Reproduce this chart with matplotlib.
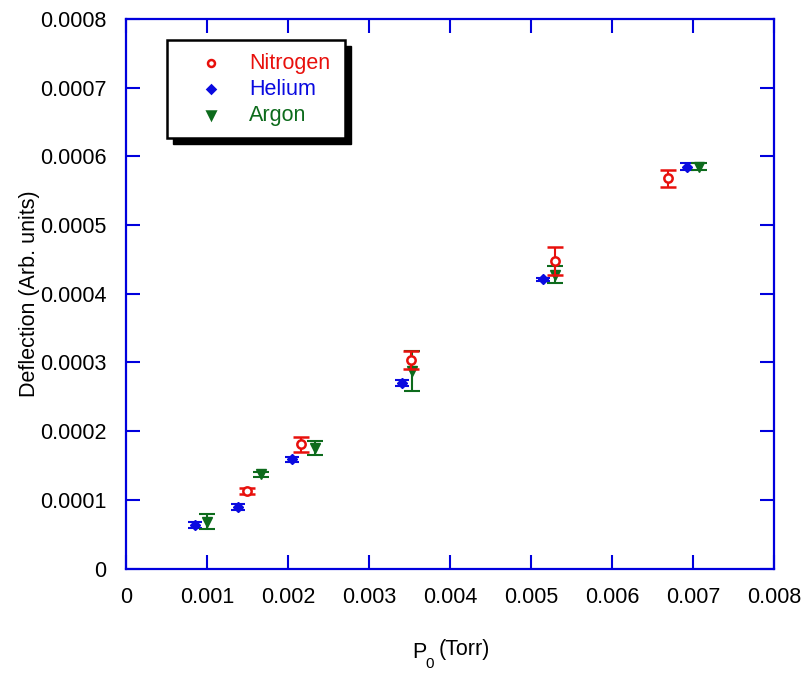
import numpy as np
import matplotlib.pyplot as plt
from matplotlib.patches import Rectangle

plt.rcParams['font.family'] = ['Liberation Sans', 'DejaVu Sans']

# Nitrogen
n2_x = [0.00149, 0.00216, 0.00352, 0.00530, 0.00669]
n2_y = [0.000113, 0.000181, 0.000304, 0.000448, 0.000568]
n2_err = [0.000004, 0.000011, 0.000013, 0.000020, 0.000012]
# Helium
he_x = [0.00085, 0.00138, 0.00205, 0.00341, 0.00515, 0.00693]
he_y = [0.0000633, 0.0000895, 0.000159, 0.000270, 0.000421, 0.000585]
he_err = [0.000004, 0.000004, 0.000004, 0.000005, 0.000002, 0.000005]
# Argon
ar_x = [0.00100, 0.00167, 0.00233, 0.00353, 0.00530, 0.00707]
ar_y = [0.0000680, 0.000137, 0.000175, 0.000287, 0.000428, 0.000585]
ar_err = [0.000011, 0.000004, 0.000010, 0.000029, 0.000012, 0.000005]

xticks = np.arange(0, 0.0081, 0.001)
yticks = np.arange(0, 0.00081, 0.0001)
xlabels = ['0'] + ['%.3f' % v for v in xticks[1:]]
ylabels = ['0'] + ['%.4f' % v for v in yticks[1:]]

red = '#e8100c'
blue = '#0a0ae0'
green = '#0d6b1c'
axcol = '#0000dd'
fs = 15.5

fig = plt.figure(figsize=(8.04, 6.74), dpi=100)
ax = fig.add_axes([0.1567, 0.1565, 0.8060, 0.8153])

ax.errorbar(he_x, he_y, yerr=he_err, fmt='D', ms=5, color=blue, ecolor=blue,
            capsize=5, elinewidth=1.5, capthick=1.5, zorder=3)
ax.errorbar(ar_x, ar_y, yerr=ar_err, fmt='v', ms=6.5, color=green, ecolor=green,
            capsize=6, elinewidth=1.5, capthick=1.5, zorder=3)
ax.errorbar(n2_x, n2_y, yerr=n2_err, fmt='o', ms=6, mfc='white', mec=red, mew=1.8,
            color=red, ecolor=red, capsize=6, elinewidth=1.5, capthick=1.5, zorder=4)

ax.set_xlim(0, 0.008)
ax.set_ylim(0, 0.0008)
ax.set_xticks(xticks)
ax.set_xticklabels(xlabels)
ax.set_yticks(yticks)
ax.set_yticklabels(ylabels)
ax.tick_params(direction='in', length=10, width=1.5, color=axcol, labelsize=fs,
               top=True, right=True, pad=13)
ax.tick_params(axis='y', pad=14)
for s in ax.spines.values():
    s.set_color(axcol)
    s.set_linewidth(1.6)

ax.set_ylabel('Deflection (Arb. units)', fontsize=fs, labelpad=0)
# x label with low-set subscript
fig.text(419 / 804, 1 - 652 / 674, 'P', fontsize=fs, ha='center', va='center')
fig.text(430 / 804, 1 - 664 / 674, '0', fontsize=11, ha='center', va='center')
fig.text(464 / 804, 1 - 650 / 674, '(Torr)', fontsize=fs, ha='center', va='center')

# legend box with shadow
tr = ax.transAxes
def px2ax(x, y):
    return ((x - 126) / 648.0, (568.5 - y) / 549.5)
x0, y0 = px2ax(167, 138)
x1, y1 = px2ax(345, 40)
sx, sy = 6 / 648.0, 6 / 549.5
ax.add_patch(Rectangle((x0 + sx, y0 - sy), x1 - x0, y1 - y0, transform=tr,
                       facecolor='black', edgecolor='black', zorder=5))
ax.add_patch(Rectangle((x0, y0), x1 - x0, y1 - y0, transform=tr,
                       facecolor='white', edgecolor='black', lw=1.8, zorder=6))
entries = [('Nitrogen', 'o', red, 'white', 5), ('Helium', 'D', blue, blue, 4.5),
           ('Argon', 'v', green, green, 6)]
for i, (lab, m, c, fc, ms) in enumerate(entries):
    yy = 63 + i * 26
    mx, my = px2ax(211, yy)
    tx, ty = px2ax(249, yy)
    ax.plot([mx], [my], m, ms=ms, mfc=fc, mec=c, mew=1.8, transform=tr, zorder=7,
            clip_on=False)
    ax.text(tx, ty, lab, color=c, fontsize=fs, va='center', ha='left',
            transform=tr, zorder=7)

fig.savefig('out.png', dpi=100)
